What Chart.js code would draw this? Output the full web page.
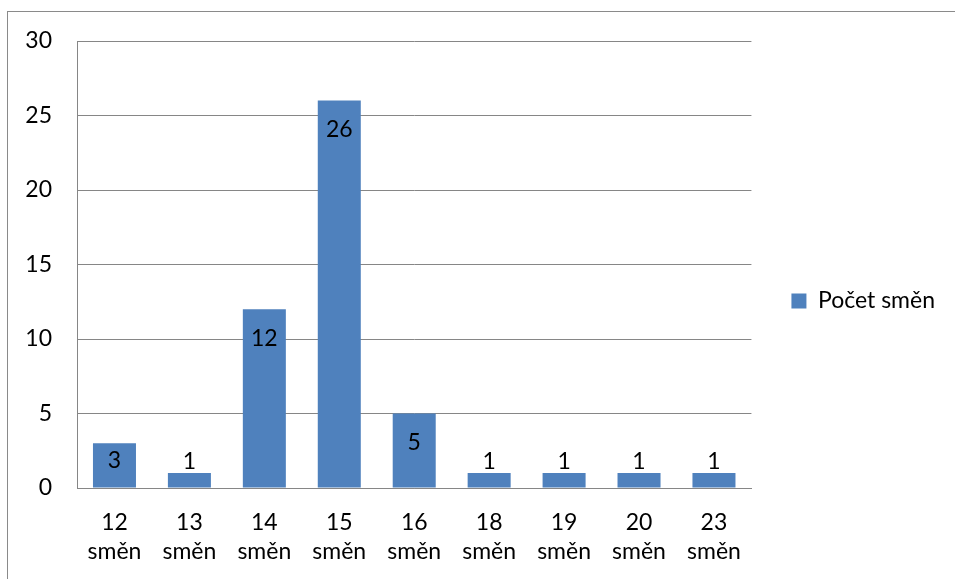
<!DOCTYPE html>
<html>
<head>
<meta charset="utf-8">
<script src="https://cdn.jsdelivr.net/npm/chart.js@4/dist/chart.umd.min.js"></script>
<style>
  html, body { margin: 0; padding: 0; background: #fff; }
  #wrap { position: relative; width: 955px; height: 579px; }
  #frame { position: absolute; left: 7px; top: 11px; right: 0; bottom: 0;
           border-left: 1px solid #8a8a8a; border-top: 1px solid #8a8a8a; }
  canvas { position: absolute; left: 0; top: 0; }
</style>
</head>
<body>
<div id="wrap">
  <div id="frame"></div>
  <canvas id="c" width="955" height="579"></canvas>
</div>
<script>
// Počet směn podle počtu odpracovaných směn
const categories = [
  ['12', 'směn'], ['13', 'směn'], ['14', 'směn'], ['15', 'směn'], ['16', 'směn'],
  ['18', 'směn'], ['19', 'směn'], ['20', 'směn'], ['23', 'směn']
];
const seriesName = 'Počet směn';
const counts = [3, 1, 12, 26, 5, 1, 1, 1, 1];
const yTicks = [0, 5, 10, 15, 20, 25, 30];

const FONT = 'Lato, "Open Sans", sans-serif';
const SIZE = 23;

// Popisky hodnot: uvnitř sloupce u jeho konce, u nízkých sloupců nad ním
const valueLabels = {
  id: 'valueLabels',
  afterDatasetsDraw(chart) {
    const ctx = chart.ctx;
    const meta = chart.getDatasetMeta(0);
    const data = chart.data.datasets[0].data;
    ctx.save();
    ctx.font = SIZE + 'px ' + FONT;
    ctx.fillStyle = '#000';
    ctx.textAlign = 'center';
    ctx.textBaseline = 'middle';
    meta.data.forEach((bar, i) => {
      const h = bar.base - bar.y;
      let y;
      if (h > 25) {
        y = Math.min(bar.y + 29, bar.y + h / 2 - 5);
      } else {
        y = bar.y - 12;
      }
      ctx.fillText(String(data[i]), bar.x, y);
    });
    ctx.restore();
  }
};

new Chart(document.getElementById('c'), {
  type: 'bar',
  data: {
    labels: categories,
    datasets: [{
      label: seriesName,
      data: counts,
      backgroundColor: '#4F81BD',
      borderWidth: 0,
      categoryPercentage: 1,
      barPercentage: 0.574
    }]
  },
  options: {
    responsive: false,
    animation: false,
    devicePixelRatio: 1,
    layout: { padding: { left: 0, top: 41, right: 10, bottom: 18 } },
    plugins: {
      legend: {
        position: 'right',
        labels: {
          boxWidth: 15,
          boxHeight: 15,
          padding: 40,
          color: '#000',
          font: { family: FONT, size: SIZE }
        }
      },
      tooltip: { enabled: false }
    },
    scales: {
      x: {
        grid: { display: false, drawTicks: false },
        border: { display: true, color: '#868686', width: 1 },
        ticks: {
          color: '#000',
          padding: 20,
          maxRotation: 0,
          autoSkip: false,
          font: { family: FONT, size: SIZE, lineHeight: 1.27 }
        },
        afterFit(scale) { scale.height = 73; }
      },
      y: {
        min: 0,
        max: 30,
        afterBuildTicks(scale) { scale.ticks = yTicks.map(v => ({ value: v })); },
        grid: { color: '#868686', lineWidth: 1, drawTicks: false },
        border: { display: true, color: '#868686', width: 1 },
        ticks: {
          color: '#000',
          padding: 25,
          font: { family: FONT, size: SIZE }
        },
        afterFit(scale) { scale.width = 77; }
      }
    }
  },
  plugins: [valueLabels]
});
</script>
</body>
</html>
